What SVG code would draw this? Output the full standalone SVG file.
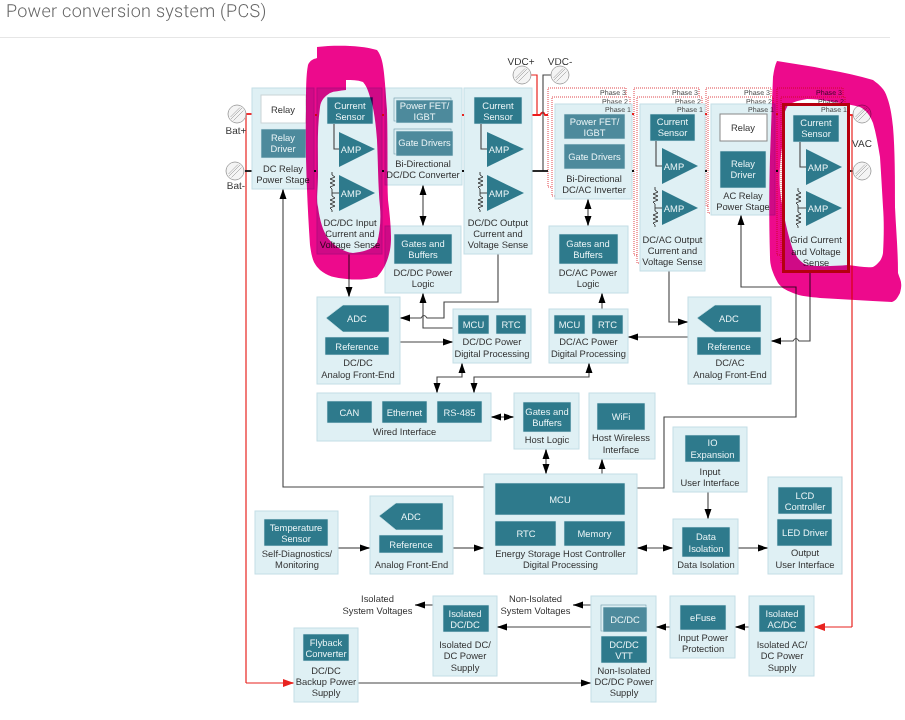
<svg xmlns="http://www.w3.org/2000/svg" width="905" height="720" viewBox="0 0 905 720">
<style>
text{font-family:"Liberation Sans",Arial,sans-serif;font-size:9.4px;fill:#333;text-anchor:middle;text-rendering:geometricPrecision}
.title{font-family:Roboto,"Liberation Sans",sans-serif;font-size:18px;font-weight:300;fill:#666;text-anchor:start;letter-spacing:.28px}
.n{fill:#dff0f4;stroke:#c3dee6;stroke-width:1}
.t{fill:#2e7a8c;stroke:#d8ecf0;stroke-width:.6}
.u{fill:#4d8a9c;stroke:#d8ecf0;stroke-width:.6}
.s{fill:#dff0f4;stroke:#6f9aa8;stroke-width:.6}
.r{fill:#fff;stroke:#c9d3d6;stroke-width:1}
.p{fill:#fff;stroke:#e0474c;stroke-width:1;stroke-dasharray:1 1}
.w{fill:#e8f3f5}
.ph{font-size:7.1px;text-anchor:end;fill:#444}
.term{font-size:10px}
.c{fill:none;stroke:#444;stroke-width:1.1}
.k{fill:none;stroke:#111;stroke-width:1.8}
.red{fill:none;stroke:#e8231f;stroke-width:1.2}
.redb{fill:none;stroke:#ee1c1c;stroke-width:1.8}
.a{marker-end:url(#ah)}
.d{marker-start:url(#as);marker-end:url(#ah)}
.tri{fill:#2e7a8c}
.res{fill:none;stroke:#333;stroke-width:.9}
.cir{fill:#f4f4f4;stroke:#aaa;stroke-width:1}
.blob{fill:#ed0a8c;fill-rule:evenodd;mix-blend-mode:multiply}
.dot{fill:#111}
.rdot{fill:#e8231f}
</style>
<defs>
<marker id="ah" markerUnits="userSpaceOnUse" markerWidth="11" markerHeight="8" refX="10" refY="4" orient="auto"><path d="M0 .5L10 4L0 7.500z" fill="#000"/></marker>
<marker id="as" markerUnits="userSpaceOnUse" markerWidth="11" markerHeight="8" refX="10" refY="4" orient="auto-start-reverse"><path d="M0 .5L10 4L0 7.500z" fill="#000"/></marker>
<marker id="ar" markerUnits="userSpaceOnUse" markerWidth="12" markerHeight="8" refX="11" refY="4" orient="auto"><path d="M0 0L11 4L0 8z" fill="#e8231f"/></marker>
<g id="term"><circle r="9" class="cir"/><path d="M-6 5L5 -6M-3.500 6.500L6.500 -3.500M-6.500 3L3 -6.500" stroke="#bbb" stroke-width="1" fill="none"/></g>
</defs>
<rect width="905" height="720" fill="#fff"/>
<text class="title" x="6" y="17">Power conversion system (PCS)</text>
<path d="M0 37.500H890" stroke="#e6e6e6" fill="none"/>

<g id="phases">
<rect class="p" x="548" y="88" width="78" height="99"/><rect class="p" x="552" y="97" width="78" height="99"/>
<rect class="p" x="634" y="88" width="65" height="167"/><rect class="p" x="637" y="97" width="65" height="166"/>
<rect class="p" x="706" y="88" width="65" height="118"/><rect class="p" x="708" y="97" width="65" height="116"/>
<rect class="p" x="777" y="88" width="66" height="167"/><rect class="p" x="781" y="97" width="64" height="166"/>
<text class="ph" x="626" y="95">Phase 3</text><text class="ph" x="628" y="104">Phase 2</text>
<text class="ph" x="698" y="95">Phase 3</text><text class="ph" x="701" y="104">Phase 2</text>
<text class="ph" x="770" y="95">Phase 3</text><text class="ph" x="772" y="104">Phase 2</text>
<text class="ph" x="842" y="95">Phase 3</text><text class="ph" x="844" y="104">Phase 2</text>
</g>

<g id="connectors">
<path class="redb" d="M245 114H252"/>
<path class="red" d="M246 114V683" stroke-width="1.5"/>
<path class="red" d="M246 683H294" style="marker-end:url(#ar)"/>
<path class="k" d="M245 171H252"/>
<path class="red" d="M530 75H537V115"/>
<path class="redb" d="M532 115H540q3 -5 5 0H548"/>
<path class="c" d="M551 75H543V171"/>
<path class="k" d="M532 171H548"/>
<path class="redb" d="M849 115H853"/>
<path class="k" d="M849 171H853"/>
<path class="red" d="M852 115V627" stroke-width="1.2"/>
<path class="red" d="M852 627H814" style="marker-end:url(#ar)"/>
<path class="c a" d="M484 487H283V189"/>
<path class="c a" d="M349 254V297"/>
<path class="c d" d="M423 185V226"/>
<path class="c a" d="M498 254V302H444V318H427q-3 -5 -6 0H400"/>
<path class="c a" d="M453 328H423V293"/>
<path class="c a" d="M400 342H453"/>
<path class="c a" d="M602 309V293"/>
<path class="c d" d="M588 199V226"/>
<path class="c a" d="M688 337H628"/>
<path class="c a" d="M669 271V322H688"/>
<path class="c a" d="M810 272V341H799q-3 -5 -6 0H771"/>
<path class="c a" d="M637 488H664V417H796V287H741V215"/>
<path class="c d" d="M462 363V377H437V393"/>
<path class="c d" d="M589 363V377H474V393"/>
<path class="c d" d="M491 417H514"/>
<path class="c d" d="M546 449V474"/>
<path class="c a" d="M602 474V459"/>
<path class="c a" d="M708 492V519"/>
<path class="c d" d="M637 548H673"/>
<path class="c a" d="M738 548H768"/>
<path class="c a" d="M338 548H370"/>
<path class="c a" d="M453 548H484"/>
<path class="c a" d="M433 605H415"/>
<path class="c a" d="M591 627H497"/>
<path class="c a" d="M591 605H573"/>
<path class="c a" d="M670 627H656"/>
<path class="c a" d="M749 627H735"/>
<path class="c a" d="M358 683H591"/>
</g>

<g id="terminals">
<use href="#term" x="237" y="114"/><use href="#term" x="235" y="171"/>
<use href="#term" x="522" y="75"/><use href="#term" x="560" y="75"/>
<use href="#term" x="862" y="114"/><use href="#term" x="862" y="171"/>
<text class="term" x="236" y="134">Bat+</text><text class="term" x="236" y="189">Bat-</text>
<text class="term" x="521" y="65">VDC+</text><text class="term" x="560" y="65">VDC-</text>
<text class="term" x="862" y="147">VAC</text>
</g>

<g id="dc-relay">
<rect class="n" x="252" y="88" width="62" height="101"/>
<rect class="r" x="261" y="95" width="45" height="28"/><text x="283" y="113">Relay</text>
<rect class="u" x="261" y="129" width="45" height="29"/><text class="w" x="283" y="141">Relay</text><text class="w" x="283" y="152">Driver</text>
<text x="283" y="172">DC Relay</text><text x="283" y="183">Power Stage</text>
</g>

<g id="dcdc-input-sense">
<rect class="n" x="317" y="88" width="65" height="166"/>
<rect class="t" x="327" y="97" width="46" height="27"/><text class="w" x="350" y="109">Current</text><text class="w" x="350" y="120">Sensor</text>
<path class="c" d="M334 124V149H339"/>
<path class="tri" d="M339 132L375 149L339 167z"/><text class="w" x="351" y="152.500">AMP</text>
<path class="tri" d="M339 175L375 193L339 211z"/><text class="w" x="351" y="196.500">AMP</text>
<path class="res" d="M332 172v3l3 2l-5 2l5 2l-5 2l5 2l-5 2l2 2v7l3 2l-5 2l5 2l-5 2l5 2l-5 2l2 2v2M332 193H339"/>
<text x="350" y="226">DC/DC Input</text><text x="350" y="237">Current and</text><text x="350" y="248">Voltage Sense</text>
</g>

<g id="bidir-dcdc">
<rect class="n" x="385" y="88" width="77" height="97"/>
<rect class="s" x="394" y="98" width="57" height="23"/><rect class="u" x="396" y="100" width="57" height="23"/>
<text class="w" x="424.500" y="109">Power FET/</text><text class="w" x="424.500" y="120">IGBT</text>
<rect class="s" x="394" y="129" width="57" height="25"/><rect class="u" x="396" y="131" width="57" height="25"/>
<text class="w" x="424.500" y="146">Gate Drivers</text>
<text x="423" y="167">Bi-Directional</text><text x="423" y="178">DC/DC Converter</text>
</g>

<g id="dcdc-output-sense">
<rect class="n" x="464" y="88" width="68" height="166"/>
<rect class="t" x="474" y="97" width="48" height="27"/><text class="w" x="498" y="109">Current</text><text class="w" x="498" y="120">Sensor</text>
<path class="c" d="M481 124V149H487"/>
<path class="tri" d="M487 132L524 149L487 167z"/><text class="w" x="499" y="152.500">AMP</text>
<path class="tri" d="M487 175L524 193L487 211z"/><text class="w" x="499" y="196.500">AMP</text>
<path class="res" d="M480 172v3l3 2l-5 2l5 2l-5 2l5 2l-5 2l2 2v7l3 2l-5 2l5 2l-5 2l5 2l-5 2l2 2v2M480 193H487"/>
<text x="498" y="226">DC/DC Output</text><text x="498" y="237">Current and</text><text x="498" y="248">Voltage Sense</text>
</g>

<g id="inverter">
<rect class="n" x="555" y="104" width="77" height="95"/>
<text class="ph" x="631" y="112">Phase 1</text>
<rect class="u" x="564" y="114" width="61" height="25"/><text class="w" x="594.500" y="125">Power FET/</text><text class="w" x="594.500" y="136">IGBT</text>
<rect class="u" x="564" y="144" width="61" height="25"/><text class="w" x="594.500" y="160">Gate Drivers</text>
<text x="594" y="182">Bi-Directional</text><text x="594" y="193">DC/AC Inverter</text>
</g>

<g id="dcac-output-sense">
<rect class="n" x="640" y="104" width="65" height="167"/>
<text class="ph" x="703" y="112">Phase 1</text>
<rect class="t" x="650" y="114" width="45" height="27"/><text class="w" x="672.500" y="125">Current</text><text class="w" x="672.500" y="136">Sensor</text>
<path class="c" d="M656 141V166H662"/>
<path class="tri" d="M662 148L698 166L662 184z"/><text class="w" x="674" y="169.500">AMP</text>
<path class="tri" d="M662 190L698 208L662 225z"/><text class="w" x="674" y="211.500">AMP</text>
<path class="res" d="M655 187v3l3 2l-5 2l5 2l-5 2l5 2l-5 2l2 2v7l3 2l-5 2l5 2l-5 2l5 2l-5 2l2 2v2M655 208H662"/>
<text x="672.500" y="242.500">DC/AC Output</text><text x="672.500" y="254">Current and</text><text x="672.500" y="265">Voltage Sense</text>
</g>

<g id="ac-relay">
<rect class="n" x="711" y="104" width="64" height="111"/>
<text class="ph" x="774" y="112">Phase 1</text>
<rect class="r" x="720" y="114" width="47" height="27" style="stroke:#888"/><text x="743" y="131">Relay</text>
<rect class="t" x="720" y="151" width="46" height="37"/><text class="w" x="743" y="167">Relay</text><text class="w" x="743" y="178">Driver</text>
<text x="743" y="198.500">AC Relay</text><text x="743" y="209.500">Power Stage</text>
</g>

<g id="grid-sense">
<rect class="n" x="783" y="104" width="66" height="168"/>
<text class="ph" x="847" y="112">Phase 1</text>
<rect class="t" x="793" y="115" width="46" height="27"/><text class="w" x="816" y="126">Current</text><text class="w" x="816" y="137">Sensor</text>
<path class="c" d="M800 142V167H806"/>
<path class="tri" d="M806 149L842 167L806 185z"/><text class="w" x="818" y="170.500">AMP</text>
<path class="tri" d="M806 191L842 208L806 226z"/><text class="w" x="818" y="211.500">AMP</text>
<path class="res" d="M798 188v3l3 2l-5 2l5 2l-5 2l5 2l-5 2l2 2v7l3 2l-5 2l5 2l-5 2l5 2l-5 2l2 2v2M798 208H806"/>
<text x="816" y="243">Grid Current</text><text x="816" y="254.500">and Voltage</text><text x="816" y="265.500">Sense</text>
</g>

<g id="dcdc-logic">
<rect class="n" x="385" y="226" width="76" height="67"/>
<rect class="t" x="394" y="234" width="58" height="30"/><text class="w" x="423" y="247">Gates and</text><text class="w" x="423" y="258">Buffers</text>
<text x="423" y="275.500">DC/DC Power</text><text x="423" y="287">Logic</text>
</g>
<g id="dcac-logic">
<rect class="n" x="549" y="226" width="79" height="67"/>
<rect class="t" x="559" y="234" width="59" height="30"/><text class="w" x="588" y="247">Gates and</text><text class="w" x="588" y="258">Buffers</text>
<text x="588" y="275.500">DC/AC Power</text><text x="588" y="287">Logic</text>
</g>

<g id="dcdc-afe">
<rect class="n" x="317" y="297" width="83" height="87"/>
<path class="t" d="M326 318L343 305H389V332H343z"/><text class="w" x="357" y="322">ADC</text>
<rect class="t" x="325" y="337" width="64" height="18"/><text class="w" x="357" y="349.500">Reference</text>
<text x="358" y="366">DC/DC</text><text x="358" y="377.500">Analog Front-End</text>
</g>
<g id="dcdc-digital">
<rect class="n" x="453" y="309" width="78" height="54"/>
<rect class="t" x="458" y="315" width="31" height="19"/><text class="w" x="473.500" y="328">MCU</text>
<rect class="t" x="496" y="315" width="30" height="19"/><text class="w" x="511" y="328">RTC</text>
<text x="492" y="345">DC/DC Power</text><text x="492" y="356.500">Digital Processing</text>
</g>
<g id="dcac-digital">
<rect class="n" x="549" y="309" width="79" height="54"/>
<rect class="t" x="554" y="315" width="31" height="19"/><text class="w" x="569.500" y="328">MCU</text>
<rect class="t" x="592" y="315" width="31" height="19"/><text class="w" x="607.500" y="328">RTC</text>
<text x="588.500" y="345">DC/AC Power</text><text x="588.500" y="356.500">Digital Processing</text>
</g>
<g id="dcac-afe">
<rect class="n" x="688" y="297" width="83" height="87"/>
<path class="t" d="M697 318L715 305H761V332H715z"/><text class="w" x="729" y="322">ADC</text>
<rect class="t" x="697" y="337" width="64" height="18"/><text class="w" x="729" y="349.500">Reference</text>
<text x="730" y="366">DC/AC</text><text x="730" y="377.500">Analog Front-End</text>
</g>

<g id="wired">
<rect class="n" x="317" y="393" width="174" height="48"/>
<rect class="t" x="327" y="401" width="45" height="22"/><text class="w" x="349.500" y="415.500">CAN</text>
<rect class="t" x="382" y="401" width="45" height="22"/><text class="w" x="404.500" y="415.500">Ethernet</text>
<rect class="t" x="437" y="401" width="45" height="22"/><text class="w" x="459.500" y="415.500">RS-485</text>
<text x="404.500" y="435">Wired Interface</text>
</g>
<g id="host-logic">
<rect class="n" x="514" y="393" width="65" height="56"/>
<rect class="t" x="523" y="402" width="48" height="30"/><text class="w" x="547" y="415">Gates and</text><text class="w" x="547" y="426">Buffers</text>
<text x="547" y="443">Host Logic</text>
</g>
<g id="wifi">
<rect class="n" x="589" y="393" width="66" height="66"/>
<rect class="t" x="597" y="403" width="48" height="27"/><text class="w" x="621" y="420">WiFi</text>
<text x="621" y="441">Host Wireless</text><text x="621" y="452.500">Interface</text>
</g>
<g id="input-ui">
<rect class="n" x="673" y="427" width="74" height="65"/>
<rect class="t" x="685" y="435" width="55" height="27"/><text class="w" x="712.500" y="446">IO</text><text class="w" x="712.500" y="457.500">Expansion</text>
<text x="710" y="475">Input</text><text x="710" y="485.500">User Interface</text>
</g>
<g id="output-ui">
<rect class="n" x="768" y="477" width="74" height="97"/>
<rect class="t" x="778" y="487" width="54" height="27"/><text class="w" x="805" y="498.500">LCD</text><text class="w" x="805" y="509.500">Controller</text>
<rect class="t" x="777" y="519" width="55" height="27"/><text class="w" x="805" y="536">LED Driver</text>
<text x="805" y="556">Output</text><text x="805" y="568">User Interface</text>
</g>
<g id="data-isolation">
<rect class="n" x="673" y="519" width="65" height="55"/>
<rect class="t" x="682" y="527" width="48" height="30"/><text class="w" x="706" y="540">Data</text><text class="w" x="706" y="551.500">Isolation</text>
<text x="706" y="568">Data Isolation</text>
</g>
<g id="host-mcu">
<rect class="n" x="484" y="474" width="153" height="100"/>
<rect class="t" x="495" y="483" width="130" height="32"/><text class="w" x="560" y="502.500">MCU</text>
<rect class="t" x="495" y="521" width="61" height="25"/><text class="w" x="526" y="536.500">RTC</text>
<rect class="t" x="564" y="521" width="61" height="25"/><text class="w" x="594.500" y="536.500">Memory</text>
<text x="560.500" y="556.500">Energy Storage Host Controller</text><text x="560.500" y="568">Digital Processing</text>
</g>
<g id="afe">
<rect class="n" x="370" y="496" width="83" height="78"/>
<path class="t" d="M379 516L396 503H443V530H396z"/><text class="w" x="411" y="519.500">ADC</text>
<rect class="t" x="379" y="535" width="64" height="18"/><text class="w" x="411" y="547.500">Reference</text>
<text x="411.500" y="568">Analog Front-End</text>
</g>
<g id="temp">
<rect class="n" x="255" y="511" width="83" height="63"/>
<rect class="t" x="264" y="519" width="64" height="27"/><text class="w" x="296" y="530.500">Temperature</text><text class="w" x="296" y="541.500">Sensor</text>
<text x="297" y="556.500">Self-Diagnostics/</text><text x="297" y="568">Monitoring</text>
</g>
<g id="isolated-dcdc">
<rect class="n" x="433" y="596" width="64" height="80"/>
<rect class="t" x="443" y="605" width="46" height="27"/><text class="w" x="465" y="616.500">Isolated</text><text class="w" x="465" y="627.500">DC/DC</text>
<text x="465" y="648">Isolated DC/</text><text x="465" y="659">DC Power</text><text x="465" y="670.500">Supply</text>
</g>
<g id="flyback">
<rect class="n" x="294" y="628" width="64" height="74"/>
<rect class="t" x="303" y="634" width="46" height="27"/><text class="w" x="326" y="645.500">Flyback</text><text class="w" x="326" y="656.500">Converter</text>
<text x="326" y="673.500">DC/DC</text><text x="326" y="685">Backup Power</text><text x="326" y="696">Supply</text>
</g>
<g id="non-isolated">
<rect class="n" x="591" y="596" width="65" height="106"/>
<rect class="s" x="601" y="605" width="45" height="26"/><rect class="u" x="603" y="607" width="44" height="25"/><text class="w" x="625" y="623">DC/DC</text>
<rect class="t" x="601" y="636" width="46" height="27"/><text class="w" x="624" y="647.500">DC/DC</text><text class="w" x="624" y="658.500">VTT</text>
<text x="624" y="673.500">Non-Isolated</text><text x="624" y="685">DC/DC Power</text><text x="624" y="696">Supply</text>
</g>
<g id="efuse">
<rect class="n" x="670" y="596" width="65" height="62"/>
<rect class="t" x="680" y="605" width="46" height="25"/><text class="w" x="703" y="621">eFuse</text>
<text x="703" y="640.500">Input Power</text><text x="703" y="651.500">Protection</text>
</g>
<g id="isolated-acdc">
<rect class="n" x="749" y="596" width="65" height="80"/>
<rect class="t" x="759" y="605" width="46" height="27"/><text class="w" x="782" y="616.500">Isolated</text><text class="w" x="782" y="627.500">AC/DC</text>
<text x="782" y="648">Isolated AC/</text><text x="782" y="659">DC Power</text><text x="782" y="670.500">Supply</text>
</g>
<g id="voltage-labels">
<text x="377.500" y="602">Isolated</text><text x="377.500" y="613.500">System Voltages</text>
<text x="535.500" y="602">Non-Isolated</text><text x="535.500" y="613.500">System Voltages</text>
</g>

<g id="dots">
<rect class="dot" x="314" y="170" width="2" height="2"/><rect class="dot" x="382" y="170" width="2" height="2"/><rect class="dot" x="462" y="170" width="2" height="2"/>
<rect class="dot" x="632" y="170" width="2" height="2"/><rect class="dot" x="705" y="170" width="2" height="2"/><rect class="dot" x="776" y="170" width="2" height="2"/>
<rect class="rdot" x="315" y="114" width="2" height="2"/><rect class="rdot" x="382" y="114" width="2" height="2"/><rect class="rdot" x="462" y="114" width="2" height="2"/>
<rect class="rdot" x="632" y="113" width="2" height="2"/><rect class="rdot" x="705" y="113" width="2" height="2"/><rect class="rdot" x="776" y="113" width="2" height="2"/>
</g>

<path class="blob" d="M317 47C335 45 360 45 377 50C383 58 384 65 387 110C388 150 387 180 388 200C391 225 392 240 390 250C388 260 384 270 377 277C365 280 355 280 347 279C335 278 327 276 320 270C314 264 312 260 310 245C307 200 305 150 306 110C306 90 306 75 308 65C310 60 314 59 317 58Z M346 80C346 84 346 87 346 90C340 91 334 91 330 93C325 96 321 100 320 107C317 130 318 150 318 173C318 190 316 200 318 207C320 222 323 230 327 237C334 246 343 252 353 253C362 252 372 250 377 243C380 232 381 220 380 207C378 185 378 160 377 140C376 125 374 108 370 97C368 90 366 85 363 82C357 80 352 80 346 80Z"/>
<path class="blob" d="M777 61C810 66 845 72 873 80C880 85 885 90 887 97C891 108 892 118 893 127C895 150 895 180 895 207C896 230 898 250 898 273C900 280 903 282 900 293C897 299 895 301 892 302C865 301 845 299 820 298C810 297 800 296 793 293C785 290 781 287 778 283C772 272 770 265 770 257C769 220 769 190 770 157C771 130 772 100 773 77C774 70 775 65 777 61Z M788 105C781 118 781 130 783 140C780 160 779 175 780 190C783 215 788 235 793 250C797 258 801 263 807 265C820 267 835 266 848 265C858 266 866 268 873 267C878 264 882 260 883 253C884 235 884 220 883 207C882 190 881 172 880 157C878 145 876 133 873 123C870 115 866 110 860 107C852 105 843 103 833 102C824 100 815 99 807 99C800 100 793 102 788 105Z"/>
<rect x="783.500" y="104.500" width="65" height="167" fill="none" stroke="#b5000f" stroke-width="3"/>
</svg>
